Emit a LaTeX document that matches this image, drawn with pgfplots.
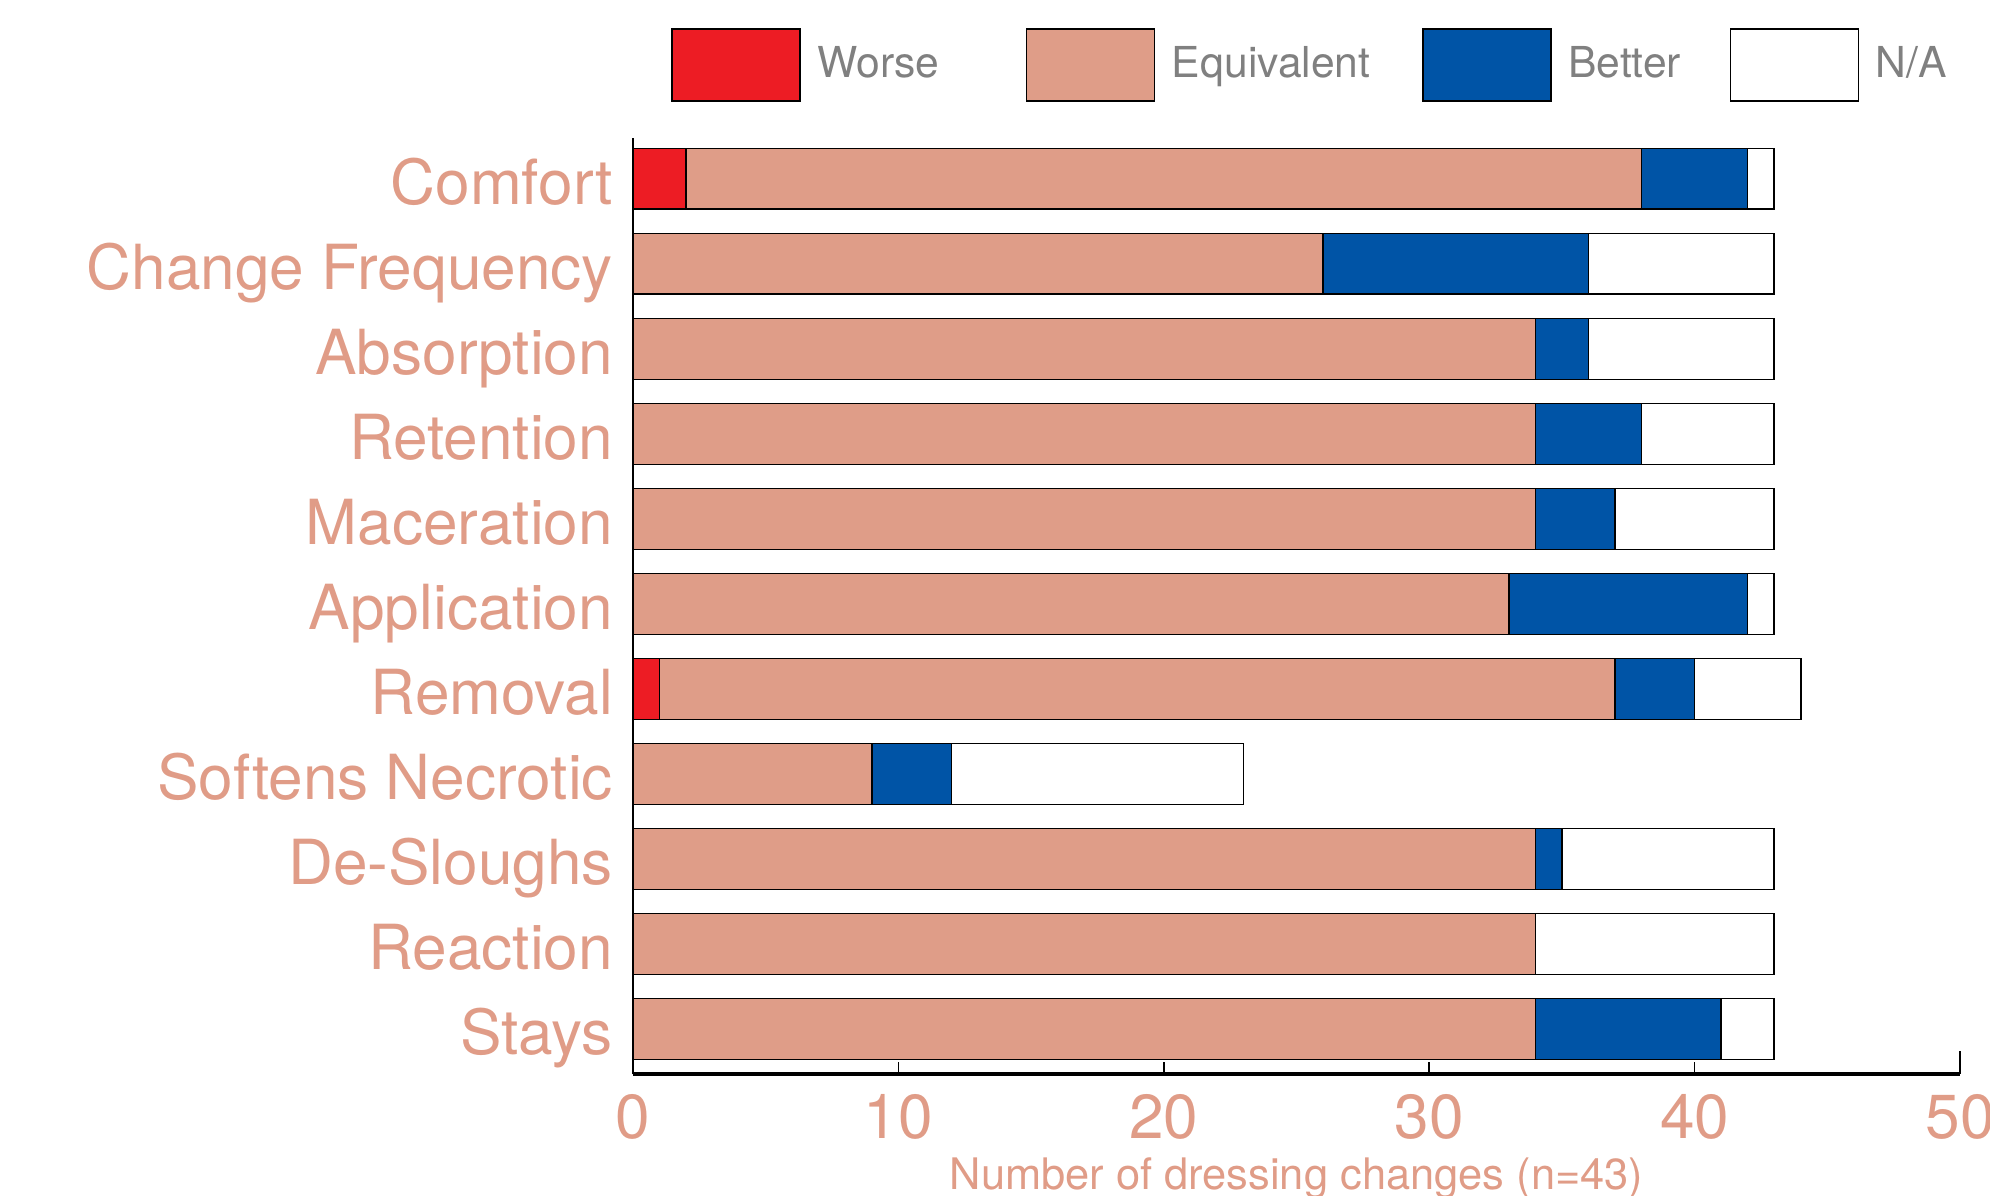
\documentclass[border=0pt]{standalone}
\usepackage{pgfplots}
\usepackage{pgfplotstable}
\pgfplotsset{compat=1.18}
\usepackage{fontspec}
\setmainfont{TeX Gyre Heros}
\definecolor{worse}{RGB}{237,28,36}
\definecolor{equiv}{RGB}{223,157,136}
\definecolor{better}{RGB}{0,84,166}
\definecolor{lbl}{RGB}{224,156,135}
\definecolor{leg}{RGB}{128,128,128}
\pgfplotstableread{
y worse equiv better na
10 2 36 4 1
9 0 26 10 7
8 0 34 2 7
7 0 34 4 5
6 0 34 3 6
5 0 33 9 1
4 1 36 3 4
3 0 9 3 11
2 0 34 1 8
1 0 34 0 9
0 0 34 7 2
}\data
\pgfplotsset{myleg/.style={legend image code/.code={\draw[##1, draw=black, line width=0.4pt] (0bp,-9bp) rectangle (32bp,9bp);}}}
\begin{document}
\begin{tikzpicture}
\useasboundingbox (0,0) rectangle (497.5bp,299bp);
\begin{axis}[
 at={(158.25bp,30.5bp)}, anchor=south west,
 scale only axis, width=331.75bp, height=234bp,
 xbar stacked, bar width=0.717,
 xmin=0, xmax=50, ymin=-0.53, ymax=10.48,
 axis x line=bottom, axis y line=left,
 axis line style={-, line width=0.4bp},
 x axis line style={line width=0.8bp},
 xtick={0,10,20,30,40}, extra x ticks={50}, extra tick style={major tick length=5.7bp},
 tick align=inside, major tick length=2.9bp,
 x tick style={black, line width=0.4bp},
 ytick={0,...,10},
 yticklabels={Stays,Reaction,De-Sloughs,Softens Necrotic,Removal,Application,Maceration,Retention,Absorption,Change Frequency,Comfort},
 y tick style={draw=none},
 tick label style={font=\fontsize{15.6}{18}\selectfont, text=lbl},
 /pgf/number format/assume math mode=true,
 xticklabel style={anchor=north, inner sep=0pt, yshift=-4.8bp},
 yticklabel style={anchor=base east, inner sep=0pt, xshift=-4.8bp, yshift=-6.3bp},
 xlabel={Number of dressing changes (n=43)},
 xlabel style={at={(axis description cs:0.5,0)}, anchor=center, yshift=-26bp, font=\fontsize{10.9}{13}\selectfont, text=lbl},
 legend columns=4,
 legend style={at={(axis description cs:0.0288,1.0778)}, anchor=west, draw=none, fill=none, inner sep=0pt, outer sep=0pt, font=\fontsize{10.7}{13}\selectfont, text=leg, nodes={inner sep=0pt}, /tikz/every odd column/.append style={column sep=4.2bp}},
 legend cell align=left,
]
\addplot[fill=worse, draw=black, line width=0.4pt, myleg] table[x=worse,y=y]{\data};
\addplot[fill=equiv, draw=black, line width=0.4pt, myleg] table[x=equiv,y=y]{\data};
\addplot[fill=better, draw=black, line width=0.4pt, myleg] table[x=better,y=y]{\data};
\addplot[fill=white, draw=black, line width=0.4pt, myleg] table[x=na,y=y]{\data};
\legend{\makebox[52.0bp][l]{Worse}, \makebox[62.5bp][l]{Equivalent}, \makebox[40.3bp][l]{Better}, N/A}
\end{axis}
\end{tikzpicture}
\end{document}
